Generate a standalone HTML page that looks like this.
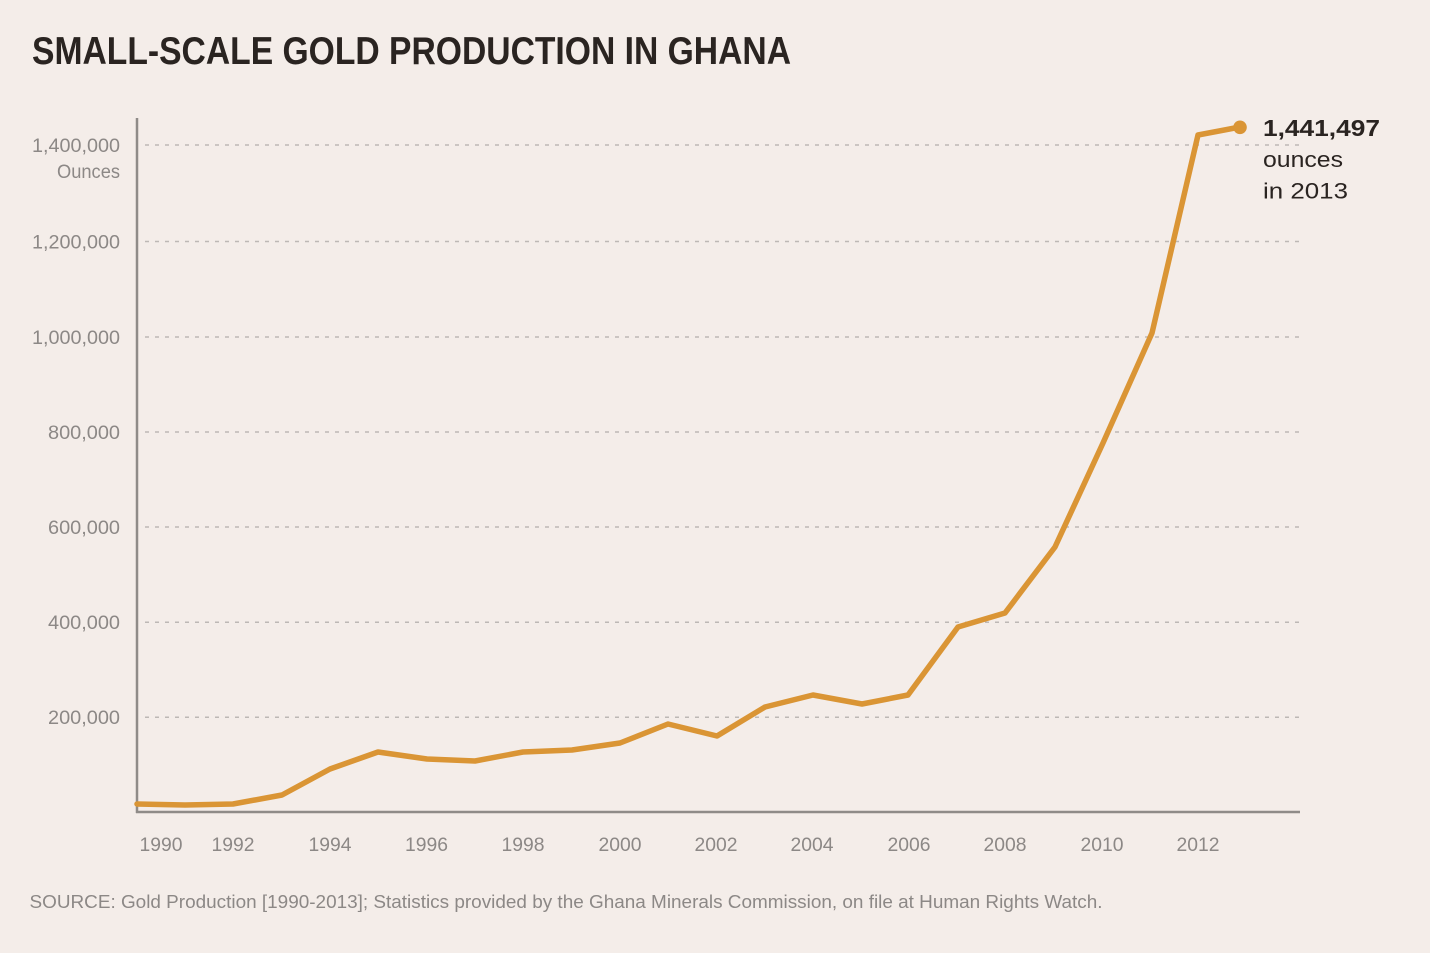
<!DOCTYPE html>
<html>
<head>
<meta charset="utf-8">
<style>
html,body{margin:0;padding:0;background:#f4ede9;}
svg{display:block;}
text{font-family:"Liberation Sans",sans-serif;}
</style>
</head>
<body>
<svg width="1430" height="953" viewBox="0 0 1430 953" xmlns="http://www.w3.org/2000/svg">
<rect x="0" y="0" width="1430" height="953" fill="#f4ede9"/>
<text x="32" y="64" font-size="39" font-weight="bold" fill="#2a2421" textLength="759" lengthAdjust="spacingAndGlyphs">SMALL-SCALE GOLD PRODUCTION IN GHANA</text>

<g stroke="#bdb8b5" stroke-width="1.5" stroke-dasharray="4 6">
<line x1="145" y1="145" x2="1300" y2="145"/>
<line x1="145" y1="241.5" x2="1300" y2="241.5"/>
<line x1="145" y1="337" x2="1300" y2="337"/>
<line x1="145" y1="432" x2="1300" y2="432"/>
<line x1="145" y1="527" x2="1300" y2="527"/>
<line x1="145" y1="622.3" x2="1300" y2="622.3"/>
<line x1="145" y1="717.3" x2="1300" y2="717.3"/>
</g>

<g fill="#8c8886" font-size="19" text-anchor="end">
<text x="120" y="152" textLength="88" lengthAdjust="spacingAndGlyphs">1,400,000</text>
<text x="120" y="178" textLength="63" lengthAdjust="spacingAndGlyphs">Ounces</text>
<text x="120" y="248.5" textLength="88" lengthAdjust="spacingAndGlyphs">1,200,000</text>
<text x="120" y="344" textLength="88" lengthAdjust="spacingAndGlyphs">1,000,000</text>
<text x="120" y="439" textLength="72" lengthAdjust="spacingAndGlyphs">800,000</text>
<text x="120" y="534" textLength="72" lengthAdjust="spacingAndGlyphs">600,000</text>
<text x="120" y="629" textLength="72" lengthAdjust="spacingAndGlyphs">400,000</text>
<text x="120" y="724" textLength="72" lengthAdjust="spacingAndGlyphs">200,000</text>
</g>

<g fill="#8c8886" font-size="19" text-anchor="middle">
<text x="161" y="851" textLength="43" lengthAdjust="spacingAndGlyphs">1990</text>
<text x="233" y="851" textLength="43" lengthAdjust="spacingAndGlyphs">1992</text>
<text x="330" y="851" textLength="43" lengthAdjust="spacingAndGlyphs">1994</text>
<text x="426.5" y="851" textLength="43" lengthAdjust="spacingAndGlyphs">1996</text>
<text x="523" y="851" textLength="43" lengthAdjust="spacingAndGlyphs">1998</text>
<text x="620" y="851" textLength="43" lengthAdjust="spacingAndGlyphs">2000</text>
<text x="716" y="851" textLength="43" lengthAdjust="spacingAndGlyphs">2002</text>
<text x="812" y="851" textLength="43" lengthAdjust="spacingAndGlyphs">2004</text>
<text x="909" y="851" textLength="43" lengthAdjust="spacingAndGlyphs">2006</text>
<text x="1005" y="851" textLength="43" lengthAdjust="spacingAndGlyphs">2008</text>
<text x="1102" y="851" textLength="43" lengthAdjust="spacingAndGlyphs">2010</text>
<text x="1198" y="851" textLength="43" lengthAdjust="spacingAndGlyphs">2012</text>
</g>

<line x1="137" y1="118" x2="137" y2="813" stroke="#8f8b88" stroke-width="2.5"/>
<line x1="136" y1="812" x2="1300" y2="812" stroke="#8f8b88" stroke-width="2.5"/>

<polyline fill="none" stroke="#da9535" stroke-width="5.5" stroke-linejoin="round" stroke-linecap="round"
points="137,804 185,805 233,804 282,795 330,769 378,752 427,759 475,761 523,752 572,750 620,743 668,724 717,736 765,707 813,695 862,704 908,695 958,627 1005,613 1055,547 1103,443 1152,333 1198,135 1240,127"/>
<circle cx="1240" cy="127.3" r="6.8" fill="#da9535"/>

<text x="1263" y="136" font-size="23" font-weight="bold" fill="#2a2421" textLength="117" lengthAdjust="spacingAndGlyphs">1,441,497</text>
<text x="1263" y="167" font-size="22" fill="#2a2421" textLength="80" lengthAdjust="spacingAndGlyphs">ounces</text>
<text x="1263" y="198.5" font-size="22" fill="#2a2421" textLength="85" lengthAdjust="spacingAndGlyphs">in 2013</text>

<text x="29.5" y="908" font-size="18.5" fill="#8c8886" textLength="1073" lengthAdjust="spacingAndGlyphs">SOURCE: Gold Production [1990-2013]; Statistics provided by the Ghana Minerals Commission, on file at Human Rights Watch.</text>
</svg>
</body>
</html>
